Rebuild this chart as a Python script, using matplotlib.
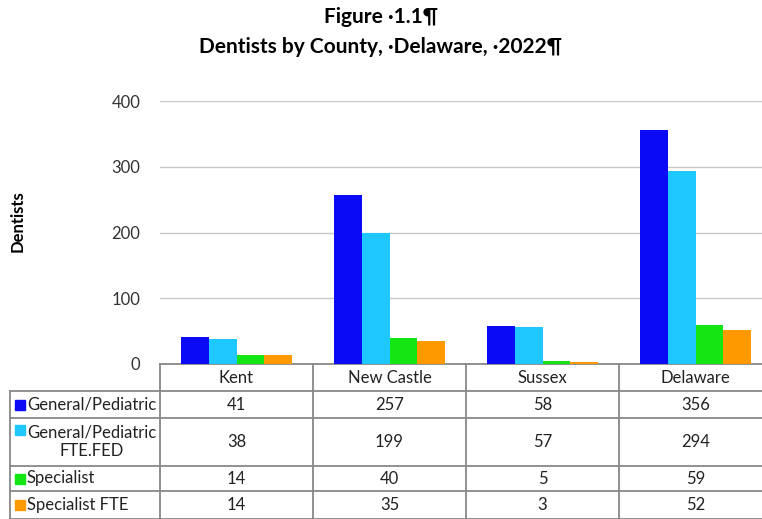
import matplotlib
matplotlib.use('Agg')
import matplotlib.pyplot as plt
import numpy as np

counties = ['Kent', 'New Castle', 'Sussex', 'Delaware']
series_names = ['General/Pediatric', 'General/Pediatric\nFTE.FED', 'Specialist', 'Specialist FTE']
general = [41, 257, 58, 356]
general_fte = [38, 199, 57, 294]
specialist = [14, 40, 5, 59]
specialist_fte = [14, 35, 3, 52]
colors = ['#0A0AF5', '#1EC8FF', '#14E614', '#FF9900']

plt.rcParams['font.family'] = ['Lato', 'DejaVu Sans']

W, H = 762, 519
fig = plt.figure(figsize=(W / 100, H / 100), dpi=100)

# axes box in pixels: left 160, bottom line at y=364, top (400) at y=101, columns 153px wide
ax_l, ax_b, ax_t, col_w = 160, 364, 101, 153
ax = fig.add_axes([ax_l / W, (H - ax_b) / H, 4 * col_w / W, (ax_b - ax_t) / H])

values = [general, general_fte, specialist, specialist_fte]
x = np.arange(len(counties))
bw = 0.18
for k, vals in enumerate(values):
    ax.bar(x + (k - 1.5) * bw, vals, bw, color=colors[k], zorder=3)

ax.set_xlim(-0.5, 3.5)
ax.set_ylim(0, 400)
ax.set_yticks([0, 100, 200, 300, 400])
ax.tick_params(axis='y', length=0, pad=14, labelsize=12, labelcolor='#333333')
ax.set_xticks([])
ax.grid(axis='y', color='#c8c8c8', linewidth=1, zorder=0)
for s in ax.spines.values():
    s.set_visible(False)

# helpers to place table pieces in axes coords from pixel positions
def ay(py):
    return (ax_b - py) / (ax_b - ax_t)

def axx(px):
    return (px - ax_l) / (4 * col_w)

line_kw = dict(color='#888888', linewidth=1.3, transform=ax.transAxes, clip_on=False)
row_edges = [364, 391, 418, 466, 491, 519]
left_edge = 10
# horizontal lines
ax.plot([0, 1.2], [ay(364), ay(364)], **line_kw)
for py in row_edges[1:]:
    ax.plot([axx(left_edge), 1.2], [ay(py), ay(py)], **line_kw)
# vertical lines
ax.plot([axx(left_edge), axx(left_edge)], [ay(391), ay(519)], **line_kw)
for i in range(4):
    xx = i / 4
    ax.plot([xx, xx], [ay(364), ay(519)], **line_kw)

# header row
txt_kw = dict(fontsize=12, color='#222222', va='center', ha='center')
for i, c in enumerate(counties):
    ax.text(i, ay(378), c, transform=ax.get_xaxis_transform(), clip_on=False, **txt_kw)

# data rows
row_centers = [404.5, 442, 478.5, 505]
for k, vals in enumerate(values):
    for i, v in enumerate(vals):
        ax.text(i, ay(row_centers[k]), str(v), transform=ax.get_xaxis_transform(),
                clip_on=False, **txt_kw)
    top_line = row_centers[k] if k != 1 else 430
    ax.plot([axx(20)], [ay(top_line)], marker='s', markersize=6.5, color=colors[k],
            transform=ax.transAxes, clip_on=False, linestyle='none')
    ax.text(axx(27), ay(row_centers[k]), series_names[k], transform=ax.transAxes,
            fontsize=12, color='#222222', va='center', ha='left', multialignment='center',
            linespacing=1.2, clip_on=False)

fig.text(18 / W, 1 - 221 / H, 'Dentists', rotation=90, fontsize=12, fontweight='bold',
         ha='center', va='center')
fig.text(0.5, 1 - 17 / H, 'Figure \u00b71.1\u00b6', fontsize=15, fontweight='bold',
         ha='center', va='center')
fig.text(0.5, 1 - 47 / H, 'Dentists by County, \u00b7Delaware, \u00b72022\u00b6', fontsize=15,
         fontweight='bold', ha='center', va='center')

fig.savefig('out.png', dpi=100)
